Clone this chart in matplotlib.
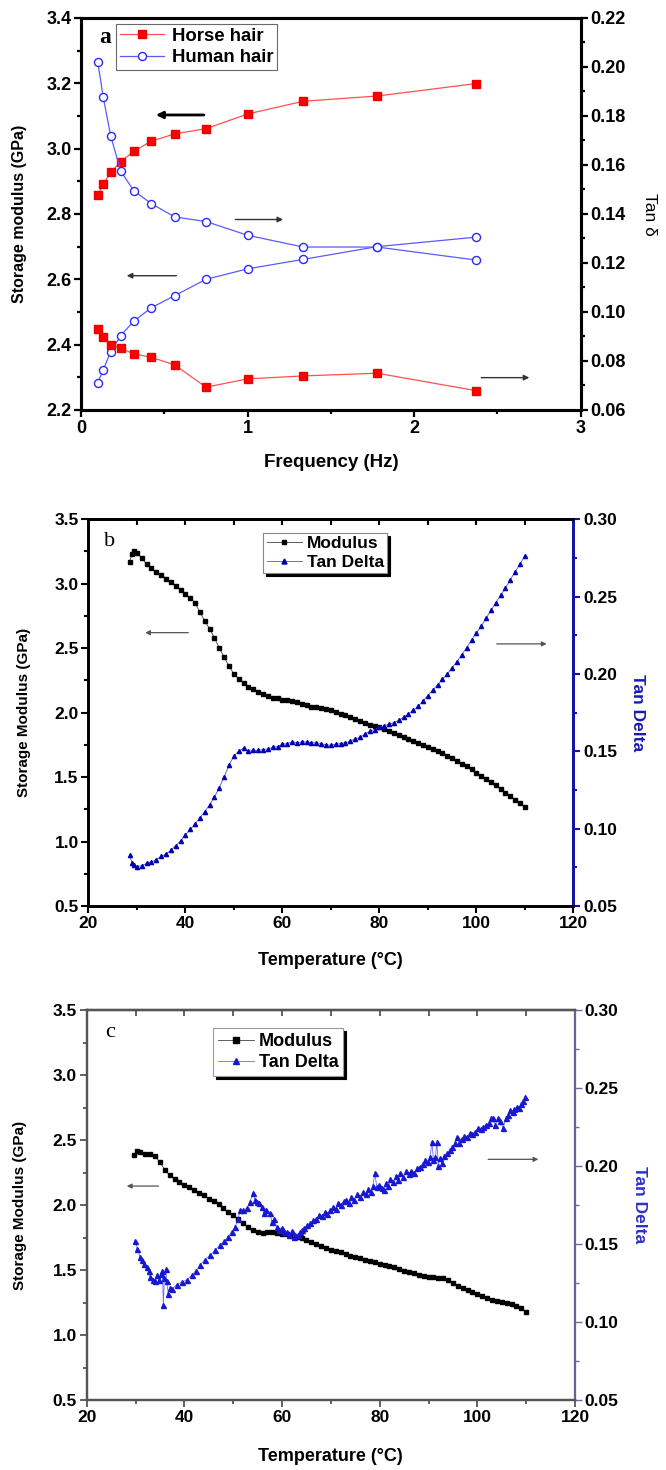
import matplotlib
matplotlib.use('Agg')
import matplotlib.pyplot as plt
from matplotlib.ticker import MultipleLocator, FormatStrFormatter

SANS = ['Liberation Sans', 'DejaVu Sans']
SERIF = ['Liberation Serif', 'DejaVu Serif']

# ---- panel a: frequency sweep ----
freq = [0.1, 0.133, 0.178, 0.237, 0.316, 0.422, 0.562, 0.75, 1.0, 1.334, 1.778, 2.371]
horse_mod = [2.857, 2.892, 2.928, 2.959, 2.992, 3.023, 3.045, 3.061, 3.106, 3.145, 3.161, 3.199]
human_mod = [2.284, 2.323, 2.379, 2.427, 2.472, 2.513, 2.550, 2.600, 2.632, 2.661, 2.700, 2.729]
horse_tan = [0.0931, 0.0899, 0.0867, 0.0852, 0.0829, 0.0815, 0.0784, 0.0693, 0.0727, 0.0739, 0.0750, 0.0679]
human_tan = [0.2020, 0.1876, 0.1718, 0.1576, 0.1495, 0.1442, 0.1388, 0.1369, 0.1313, 0.1265, 0.1265, 0.1212]

# ---- panel b: temperature sweep ----
temp_b = [28.5, 29, 29.5] + list(range(30, 111))
mod_b = [3.17, 3.23, 3.25, 3.235, 3.20, 3.15, 3.12, 3.09, 3.07, 3.04, 3.01, 2.98, 2.95,
         2.92, 2.89, 2.85, 2.78, 2.71, 2.65, 2.58, 2.50, 2.43, 2.36, 2.30, 2.26, 2.23,
         2.20, 2.18, 2.16, 2.145, 2.13, 2.115, 2.11, 2.10, 2.095, 2.09, 2.08, 2.07,
         2.055, 2.045, 2.04, 2.035, 2.03, 2.02, 2.005, 1.99, 1.98, 1.965, 1.95, 1.935,
         1.92, 1.905, 1.895, 1.885, 1.87, 1.855, 1.84, 1.825, 1.81, 1.795, 1.78, 1.765,
         1.75, 1.735, 1.72, 1.70, 1.685, 1.665, 1.645, 1.625, 1.605, 1.585, 1.56, 1.535,
         1.51, 1.485, 1.46, 1.435, 1.405, 1.38, 1.355, 1.325, 1.30, 1.27]
tan_b = [0.083, 0.078, 0.0765, 0.0755, 0.076, 0.0775, 0.0785, 0.080, 0.082, 0.0835,
         0.086, 0.089, 0.092, 0.096, 0.0995, 0.103, 0.107, 0.111, 0.1155, 0.1205,
         0.1265, 0.1335, 0.141, 0.147, 0.150, 0.152, 0.150, 0.1505, 0.1505, 0.151,
         0.1515, 0.1525, 0.153, 0.1545, 0.155, 0.156, 0.1555, 0.156, 0.156, 0.1555,
         0.1555, 0.155, 0.154, 0.154, 0.1545, 0.155, 0.1555, 0.1565, 0.158, 0.159,
         0.161, 0.163, 0.164, 0.1655, 0.1665, 0.1675, 0.1685, 0.170, 0.172, 0.174,
         0.1765, 0.179, 0.1825, 0.186, 0.1895, 0.193, 0.1965, 0.200, 0.204, 0.208,
         0.2125, 0.217, 0.222, 0.2265, 0.231, 0.236, 0.241, 0.246, 0.251, 0.2555,
         0.261, 0.266, 0.271, 0.2765]

# ---- panel c: temperature sweep ----
temp_c_mod = [29.7, 30.4] + list(range(31, 111))
mod_c = [2.385, 2.418, 2.405, 2.395, 2.39, 2.375, 2.33, 2.27, 2.23, 2.20, 2.18, 2.155,
         2.135, 2.115, 2.095, 2.075, 2.05, 2.03, 2.005, 1.975, 1.945, 1.92, 1.895, 1.86,
         1.83, 1.805, 1.79, 1.785, 1.79, 1.79, 1.785, 1.78, 1.775, 1.765, 1.755, 1.745,
         1.73, 1.715, 1.70, 1.685, 1.67, 1.655, 1.645, 1.635, 1.62, 1.61, 1.60, 1.59,
         1.58, 1.57, 1.56, 1.55, 1.54, 1.53, 1.52, 1.505, 1.495, 1.485, 1.475, 1.465,
         1.455, 1.45, 1.445, 1.44, 1.435, 1.42, 1.40, 1.38, 1.36, 1.345, 1.33, 1.315,
         1.30, 1.285, 1.27, 1.26, 1.255, 1.25, 1.24, 1.225, 1.205, 1.18]
temp_c_tan = [29.9, 30.4, 30.9, 31.3, 31.8, 32.3, 32.7, 33.0, 33.5, 34.0, 34.4, 34.8,
              35.2, 35.5, 35.7, 35.9, 36.2, 36.4, 36.7, 37.0, 37.5, 38.4, 39.5, 40.5,
              41.5, 42.4, 43.2, 44.2, 45.3, 46.3, 47.3, 48.2, 49.0, 49.7, 50.4, 51.0,
              51.4, 52.0, 52.8, 53.4, 54.1, 54.5, 54.8, 55.3, 55.8, 56.3, 56.8, 57.5,
              58.0, 58.4, 58.9, 59.4, 60.0, 60.5, 61.0, 61.5, 62.0, 62.4, 62.7, 63.2,
              63.6, 64.0, 64.6, 65.2, 65.8, 66.4, 67.0, 67.6, 68.2, 68.8, 69.3, 69.8,
              70.4, 71.0, 71.5, 72.0, 72.6, 73.2, 73.7, 74.2, 74.8, 75.4, 75.9, 76.6,
              77.1, 77.6, 78.2, 78.6, 79.0, 79.4, 79.9, 80.4, 80.8, 81.3, 81.8, 82.2,
              82.8, 83.4, 83.8, 84.2, 84.8, 85.4, 85.9, 86.5, 87.0, 87.6, 88.2, 88.8,
              89.3, 89.8, 90.3, 90.7, 91.0, 91.4, 91.7, 92.0, 92.3, 92.7, 93.2, 93.8,
              94.4, 94.9, 95.4, 95.8, 96.3, 96.8, 97.3, 97.9, 98.5, 99.0, 99.6, 100.1,
              100.7, 101.2, 101.8, 102.3, 102.8, 103.3, 103.7, 104.2, 104.7, 105.3,
              105.8, 106.2, 106.7, 107.2, 107.6, 108.1, 108.6, 109.0, 109.4, 109.8]
tan_c = [0.152, 0.147, 0.142, 0.140, 0.137, 0.1355, 0.133, 0.129, 0.127, 0.126, 0.130,
         0.127, 0.131, 0.133, 0.111, 0.128, 0.134, 0.126, 0.118, 0.122, 0.121, 0.124,
         0.1255, 0.127, 0.130, 0.133, 0.1365, 0.140, 0.143, 0.146, 0.1495, 0.152,
         0.1547, 0.158, 0.161, 0.166, 0.1718, 0.1715, 0.1729, 0.177, 0.1829, 0.178,
         0.1771, 0.176, 0.1739, 0.170, 0.1715, 0.1697, 0.164, 0.166, 0.1611, 0.159,
         0.1605, 0.1575, 0.1579, 0.156, 0.1585, 0.1547, 0.156, 0.1555, 0.158, 0.159,
         0.1605, 0.162, 0.1635, 0.1654, 0.166, 0.1685, 0.168, 0.1705, 0.1695, 0.1718,
         0.1735, 0.1725, 0.1765, 0.175, 0.1775, 0.1782, 0.176, 0.180, 0.1785, 0.182,
         0.180, 0.1835, 0.182, 0.185, 0.1835, 0.187, 0.1955, 0.1867, 0.188, 0.186,
         0.1846, 0.189, 0.187, 0.1915, 0.190, 0.1935, 0.191, 0.1953, 0.193, 0.1965,
         0.195, 0.197, 0.1955, 0.1985, 0.1995, 0.2015, 0.204, 0.2025, 0.2055, 0.2156,
         0.204, 0.2055, 0.2155, 0.200, 0.205, 0.2017, 0.2065, 0.2085, 0.2103, 0.212,
         0.2145, 0.2188, 0.215, 0.2175, 0.219, 0.2185, 0.221, 0.2205, 0.222, 0.2245,
         0.2235, 0.2252, 0.2265, 0.2275, 0.2305, 0.2306, 0.2265, 0.2305, 0.229, 0.2242,
         0.2305, 0.2325, 0.2359, 0.2345, 0.2365, 0.238, 0.2375, 0.2395, 0.2415, 0.2444]

fig = plt.figure(figsize=(6.66, 14.7), dpi=100)


def style_ticks(ax, size, width, color='black', labelcolor='black'):
    ax.tick_params(which='major', direction='out', length=5, width=width,
                   color=color, labelcolor=labelcolor, labelsize=size, pad=2)
    ax.tick_params(which='minor', direction='out', length=3, width=width, color=color)
    for lab in ax.get_xticklabels() + ax.get_yticklabels():
        lab.set_family(SANS)
        lab.set_fontweight('bold')


def arrow(ax, tail, head, lw=1.0, color='#333333', scale=8):
    ax.annotate('', xy=head, xytext=tail,
                arrowprops=dict(arrowstyle='-|>', color=color, lw=lw,
                                mutation_scale=scale, shrinkA=0, shrinkB=0))


# ======== panel a ========
ax = fig.add_axes([0.1218, 0.7211, 0.750, 0.2667])
ax2 = ax.twinx()
ax.plot(freq, horse_mod, '-', color='#ff5050', lw=0.9, marker='s', ms=5.6,
        mfc='#ff0000', mec='#ee0000', label='Horse hair', zorder=3)
ax.plot(freq, human_mod, '-', color='#5a5aff', lw=0.9, marker='o', ms=5.8,
        mfc='white', mec='#2a2aff', mew=1.0, label='Human hair', zorder=3)
ax2.plot(freq, horse_tan, '-', color='#ff5050', lw=0.9, marker='s', ms=5.6,
         mfc='#ff0000', mec='#ee0000', zorder=3)
ax2.plot(freq, human_tan, '-', color='#5a5aff', lw=0.9, marker='o', ms=5.8,
         mfc='white', mec='#2a2aff', mew=1.0, zorder=3)
ax.set_xlim(0, 3)
ax.set_ylim(2.2, 3.4)
ax2.set_ylim(0.06, 0.22)
ax.xaxis.set_major_locator(MultipleLocator(1))
ax.xaxis.set_minor_locator(MultipleLocator(0.5))
ax.yaxis.set_major_locator(MultipleLocator(0.2))
ax.yaxis.set_minor_locator(MultipleLocator(0.1))
ax.yaxis.set_major_formatter(FormatStrFormatter('%.1f'))
ax2.yaxis.set_major_locator(MultipleLocator(0.02))
ax2.yaxis.set_minor_locator(MultipleLocator(0.01))
ax2.yaxis.set_major_formatter(FormatStrFormatter('%.2f'))
for a in (ax, ax2):
    for s in a.spines.values():
        s.set_linewidth(2.2)
    style_ticks(a, 13, 1.6)
ax.set_xlabel('Frequency (Hz)', family=SANS, fontweight='bold', fontsize=13.5)
ax.xaxis.set_label_coords(0.5, -0.112)
ax.set_ylabel('Storage modulus (GPa)', family=SANS, fontweight='bold', fontsize=11.5)
ax.yaxis.set_label_coords(-0.108, 0.5)
ax2.set_ylabel('Tan δ', family=SANS, fontsize=12.5, rotation=270, va='bottom')
ax2.yaxis.set_label_coords(1.122, 0.5)
ax.text(0.108, 3.34, 'a', family=SERIF, fontweight='bold', fontsize=17, va='center')
leg = ax.legend(loc='upper left', bbox_to_anchor=(0.07, 0.985), frameon=True,
                fancybox=False, edgecolor='#444444', borderpad=0.2, handlelength=2.4,
                handletextpad=0.4, labelspacing=0.25, borderaxespad=0,
                prop={'family': SANS, 'weight': 'bold', 'size': 13.4})
leg.get_frame().set_linewidth(0.8)
arrow(ax, (0.738, 3.103), (0.449, 3.103), lw=2.0, color='black', scale=10)
arrow(ax, (0.926, 2.783), (1.213, 2.783), lw=1.0)
arrow(ax, (0.572, 2.611), (0.274, 2.611), lw=1.0)
arrow(ax, (2.403, 2.299), (2.692, 2.299), lw=1.0)

# ======== panel b ========
bx = fig.add_axes([0.1327, 0.3837, 0.7282, 0.2631])
bx2 = bx.twinx()
bx.plot(temp_b, mod_b, '-', color='#444444', lw=0.6, marker='s', ms=2.6,
        mfc='black', mec='black', label='Modulus', zorder=3)
bx2.plot(temp_b, tan_b, '-', color='#5050e0', lw=0.6, marker='^', ms=3.0,
         mfc='#0000b0', mec='#0000b0', label='Tan Delta', zorder=3)
bx.set_xlim(20, 120)
bx.set_ylim(0.5, 3.5)
bx2.set_ylim(0.05, 0.30)
bx.xaxis.set_major_locator(MultipleLocator(20))
bx.xaxis.set_minor_locator(MultipleLocator(10))
bx.yaxis.set_major_locator(MultipleLocator(0.5))
bx.yaxis.set_minor_locator(MultipleLocator(0.25))
bx.yaxis.set_major_formatter(FormatStrFormatter('%.1f'))
bx2.yaxis.set_major_locator(MultipleLocator(0.05))
bx2.yaxis.set_minor_locator(MultipleLocator(0.025))
bx2.yaxis.set_major_formatter(FormatStrFormatter('%.2f'))
for a in (bx, bx2):
    for s in a.spines.values():
        s.set_linewidth(1.9)
style_ticks(bx, 12.5, 1.5)
style_ticks(bx2, 12.5, 1.5, color='#1010c0')
bx2.spines['right'].set_color('#1010c0')
topb = bx.secondary_xaxis('top')
topb.set_xticks(range(30, 111, 10))
topb.tick_params(direction='in', length=4, width=1.5, labeltop=False)
topb.spines['top'].set_linewidth(1.9)
bx.set_xlabel('Temperature (°C)', family=SANS, fontweight='bold', fontsize=13)
bx.xaxis.set_label_coords(0.5, -0.118)
bx.set_ylabel('Storage Modulus (GPa)', family=SANS, fontweight='bold', fontsize=11)
bx.yaxis.set_label_coords(-0.118, 0.5)
bx2.set_ylabel('Tan Delta', family=SANS, fontweight='bold', fontsize=12.5,
               color='#1a1ab0', rotation=270, va='bottom')
bx2.yaxis.set_label_coords(1.117, 0.5)
bx.text(23.3, 3.33, 'b', family=SERIF, fontsize=16, va='center')
h1, l1 = bx.get_legend_handles_labels()
h2, l2 = bx2.get_legend_handles_labels()
legb = bx.legend(h1 + h2, l1 + l2, loc='upper left', bbox_to_anchor=(0.361, 0.965),
                 frameon=True, fancybox=False, edgecolor='#888888', borderpad=0.2,
                 handlelength=2.0, handletextpad=0.3, labelspacing=0.2, borderaxespad=0,
                 shadow={'color': 'black', 'alpha': 1.0}, markerscale=1.2,
                 prop={'family': SANS, 'weight': 'bold', 'size': 12.5})
legb.get_frame().set_linewidth(0.8)
arrow(bx, (40.6, 2.62), (31.7, 2.62), lw=0.9, color='#555555', scale=7)
arrow(bx2, (104.2, 0.2194), (114.5, 0.2194), lw=0.9, color='#555555', scale=7)

# ======== panel c ========
cx = fig.add_axes([0.1302, 0.0476, 0.7332, 0.2653])
cx2 = cx.twinx()
cx.plot(temp_c_mod, mod_c, '-', color='#444444', lw=0.6, marker='s', ms=2.8,
        mfc='black', mec='black', label='Modulus', zorder=3)
cx2.plot(temp_c_tan, tan_c, '-', color='#6a6aff', lw=0.6, marker='^', ms=3.6,
         mfc='#1818d0', mec='#1818d0', label='Tan Delta', zorder=3)
cx.set_xlim(20, 120)
cx.set_ylim(0.5, 3.5)
cx2.set_ylim(0.05, 0.30)
cx.xaxis.set_major_locator(MultipleLocator(20))
cx.xaxis.set_minor_locator(MultipleLocator(10))
cx.yaxis.set_major_locator(MultipleLocator(0.5))
cx.yaxis.set_minor_locator(MultipleLocator(0.25))
cx.yaxis.set_major_formatter(FormatStrFormatter('%.1f'))
cx2.yaxis.set_major_locator(MultipleLocator(0.05))
cx2.yaxis.set_minor_locator(MultipleLocator(0.025))
cx2.yaxis.set_major_formatter(FormatStrFormatter('%.2f'))
for a in (cx, cx2):
    for s in a.spines.values():
        s.set_linewidth(1.6)
        s.set_color('#555555')
style_ticks(cx, 12.5, 1.3, color='#555555')
style_ticks(cx2, 12.5, 1.0, color='#6a6aa8')
cx2.spines['right'].set_color('#6a6aa8')
cx2.spines['right'].set_linewidth(1.1)
topc = cx.secondary_xaxis('top')
topc.set_xticks(range(30, 111, 10))
topc.tick_params(direction='in', length=4, width=1.3, color='#555555', labeltop=False)
topc.spines['top'].set_linewidth(1.6)
topc.spines['top'].set_color('#555555')
cx.set_xlabel('Temperature (°C)', family=SANS, fontweight='bold', fontsize=13)
cx.xaxis.set_label_coords(0.5, -0.122)
cx.set_ylabel('Storage Modulus (GPa)', family=SANS, fontweight='bold', fontsize=11)
cx.yaxis.set_label_coords(-0.122, 0.5)
cx2.set_ylabel('Tan Delta', family=SANS, fontweight='bold', fontsize=12.5,
               color='#3030c8', rotation=270, va='bottom')
cx2.yaxis.set_label_coords(1.117, 0.5)
cx.text(23.7, 3.33, 'c', family=SERIF, fontsize=16, va='center')
h1, l1 = cx.get_legend_handles_labels()
h2, l2 = cx2.get_legend_handles_labels()
legc = cx.legend(h1 + h2, l1 + l2, loc='upper left', bbox_to_anchor=(0.259, 0.953),
                 frameon=True, fancybox=False, edgecolor='#999999', borderpad=0.25,
                 handlelength=2.0, handletextpad=0.3, labelspacing=0.25, borderaxespad=0,
                 shadow={'color': 'black', 'alpha': 1.0}, markerscale=1.3,
                 prop={'family': SANS, 'weight': 'bold', 'size': 13})
legc.get_frame().set_linewidth(0.8)
arrow(cx, (34.7, 2.146), (28.2, 2.146), lw=0.9, color='#555555', scale=7)
arrow(cx2, (102.2, 0.2043), (112.5, 0.2043), lw=0.9, color='#555555', scale=7)

fig.savefig('out.png', dpi=100)
